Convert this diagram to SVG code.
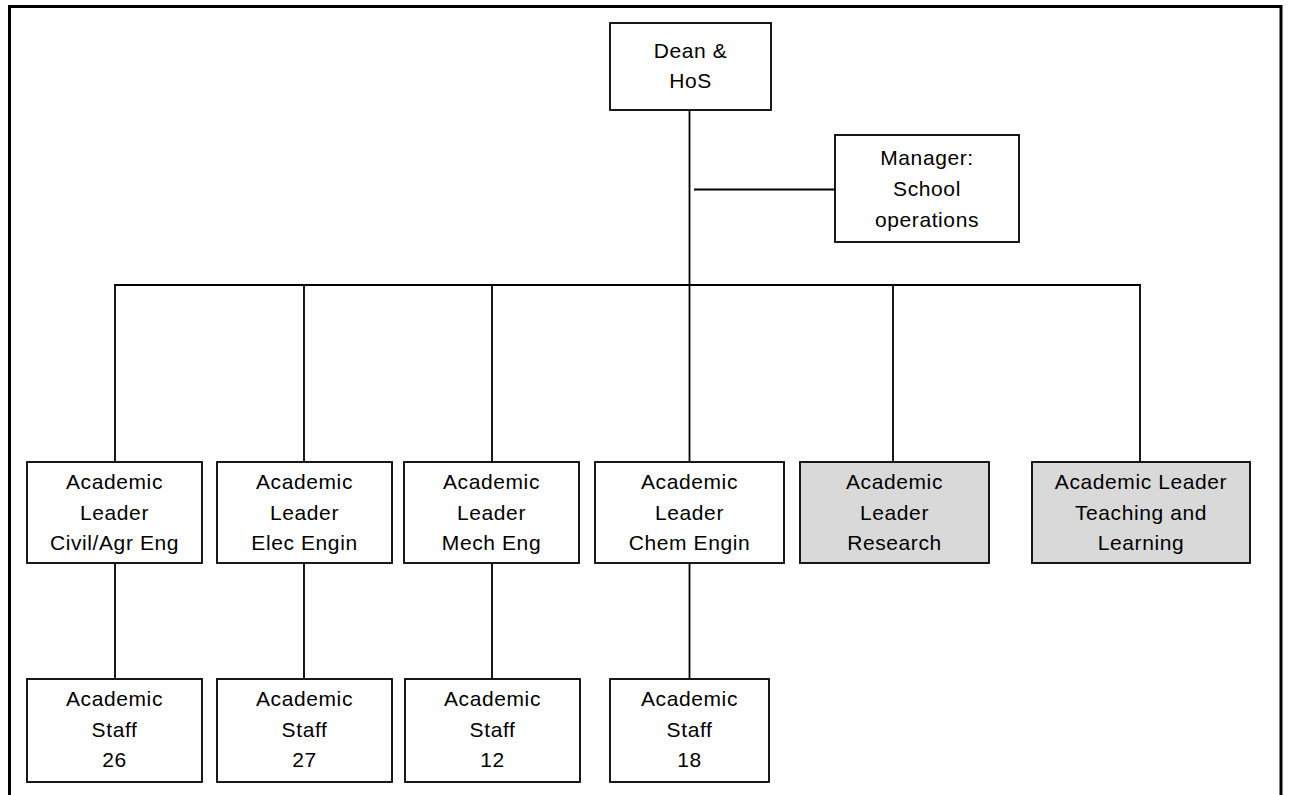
<svg xmlns="http://www.w3.org/2000/svg" width="1290" height="795" viewBox="0 0 1290 795">
<style>
.box{fill:#fff;stroke:#000;stroke-width:1.8}
.grey{fill:#d9d9d9}
.t{font-family:"Liberation Sans",Arial,sans-serif;font-size:21px;letter-spacing:0.6px;fill:#000;text-anchor:middle}
.ln{stroke:#000;stroke-width:1.8;fill:none}
</style>
<rect x="9.5" y="6.5" width="1271.5" height="800" fill="#fff" stroke="#000" stroke-width="3"/>
<g id="connectors">
<line class="ln" x1="689.5" y1="110" x2="689.5" y2="286" stroke-width="3"/>
<line class="ln" x1="694" y1="189.5" x2="835" y2="189.5"/>
<line class="ln" x1="114" y1="285" x2="1141" y2="285" stroke-width="2.2"/>
<line class="ln" x1="115" y1="285" x2="115" y2="462"/>
<line class="ln" x1="304" y1="285" x2="304" y2="462"/>
<line class="ln" x1="492" y1="285" x2="492" y2="462"/>
<line class="ln" x1="689.5" y1="285" x2="689.5" y2="462"/>
<line class="ln" x1="893" y1="285" x2="893" y2="462"/>
<line class="ln" x1="1140" y1="285" x2="1140" y2="462"/>
<line class="ln" x1="115" y1="563" x2="115" y2="679"/>
<line class="ln" x1="304" y1="563" x2="304" y2="679"/>
<line class="ln" x1="492" y1="563" x2="492" y2="679"/>
<line class="ln" x1="689.5" y1="563" x2="689.5" y2="679"/>
</g>
<g id="dean"><rect class="box" x="610" y="23" width="161" height="87"/>
<text class="t" x="690.5" y="58">Dean &amp;</text><text class="t" x="690.5" y="88">HoS</text></g>
<g id="manager"><rect class="box" x="835" y="135" width="184" height="107"/>
<text class="t" x="927" y="165">Manager:</text><text class="t" x="927" y="196">School</text><text class="t" x="927" y="227">operations</text></g>
<g id="leader-civil"><rect class="box" x="27" y="462" width="175" height="101"/>
<text class="t" x="114.5" y="489">Academic</text><text class="t" x="114.5" y="519.5">Leader</text><text class="t" x="114.5" y="550">Civil/Agr Eng</text></g>
<g id="leader-elec"><rect class="box" x="217" y="462" width="175" height="101"/>
<text class="t" x="304.5" y="489">Academic</text><text class="t" x="304.5" y="519.5">Leader</text><text class="t" x="304.5" y="550">Elec Engin</text></g>
<g id="leader-mech"><rect class="box" x="404" y="462" width="175" height="101"/>
<text class="t" x="491.5" y="489">Academic</text><text class="t" x="491.5" y="519.5">Leader</text><text class="t" x="491.5" y="550">Mech Eng</text></g>
<g id="leader-chem"><rect class="box" x="595" y="462" width="189" height="101"/>
<text class="t" x="689.5" y="489">Academic</text><text class="t" x="689.5" y="519.5">Leader</text><text class="t" x="689.5" y="550">Chem Engin</text></g>
<g id="leader-research"><rect class="box grey" x="800" y="462" width="189" height="101"/>
<text class="t" x="894.5" y="489">Academic</text><text class="t" x="894.5" y="519.5">Leader</text><text class="t" x="894.5" y="550">Research</text></g>
<g id="leader-tl"><rect class="box grey" x="1032" y="462" width="218" height="101"/>
<text class="t" x="1141" y="489">Academic Leader</text><text class="t" x="1141" y="519.5">Teaching and</text><text class="t" x="1141" y="550">Learning</text></g>
<g id="staff-civil"><rect class="box" x="27" y="679" width="175" height="103"/>
<text class="t" x="114.5" y="706">Academic</text><text class="t" x="114.5" y="737">Staff</text><text class="t" x="114.5" y="767">26</text></g>
<g id="staff-elec"><rect class="box" x="217" y="679" width="175" height="103"/>
<text class="t" x="304.5" y="706">Academic</text><text class="t" x="304.5" y="737">Staff</text><text class="t" x="304.5" y="767">27</text></g>
<g id="staff-mech"><rect class="box" x="405" y="679" width="175" height="103"/>
<text class="t" x="492.5" y="706">Academic</text><text class="t" x="492.5" y="737">Staff</text><text class="t" x="492.5" y="767">12</text></g>
<g id="staff-chem"><rect class="box" x="610" y="679" width="159" height="103"/>
<text class="t" x="689.5" y="706">Academic</text><text class="t" x="689.5" y="737">Staff</text><text class="t" x="689.5" y="767">18</text></g>
</svg>
